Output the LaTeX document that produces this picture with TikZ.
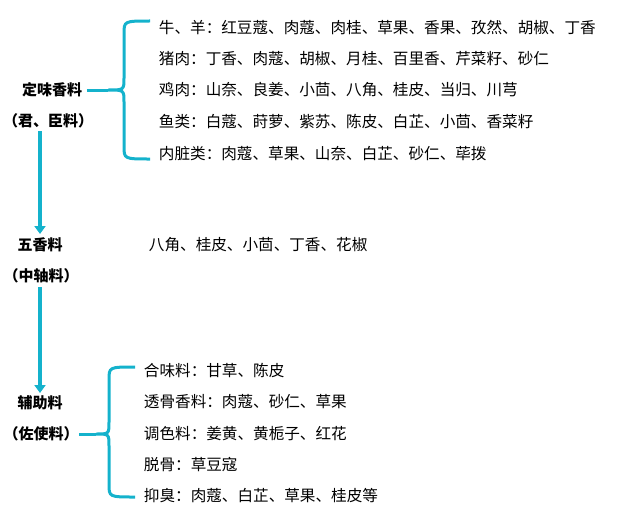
\documentclass[tikz,border=0pt]{standalone}
\usepackage{fontspec}
\newfontfamily\cjk{Noto Sans CJK SC}
\usetikzlibrary{arrows.meta}
\definecolor{braceblue}{RGB}{20,178,204}
\begin{document}
\begin{tikzpicture}[x=1pt,y=-1pt,font=\cjk\fontsize{15.6}{18}\selectfont,
  head/.style={font=\cjk\bfseries\fontsize{15}{18}\selectfont,inner sep=0.75pt},
  item/.style={anchor=west,inner sep=0.75pt},
  brace/.style={draw=braceblue,line width=3pt},
  flow/.style={draw=braceblue,line width=4.5pt,-{Triangle[length=8pt,width=11pt]}}]
\useasboundingbox (0,0) rectangle (617,511);
% heads
\node[head] (ding) at (52,90) {定味香料};
\node[head] (jun) at (48,121) {（君、臣料）};
\node[head] (wu) at (40,245) {五香料};
\node[head] (zhou) at (41,276) {（中轴料）};
\node[head] (fu) at (40,403) {辅助料};
\node[head] (zuo) at (41,434) {（佐使料）};
% arrows
\draw[flow] (40,131) -- (40,234);
\draw[flow] (40,287) -- (40,393);
% top brace
\draw[brace] (150,21) .. controls (124,21) .. (124,34) -- (124,78) .. controls (124,90) .. (108,90) .. controls (124,90) .. (124,102) -- (124,146) .. controls (124,159) .. (150,159);
\coordinate (b1) at (108,90);
\draw[brace] (ding.east) ++(4,0) -- (b1);
\node[item] (t1) at (158,28) {牛、羊：红豆蔻、肉蔻、肉桂、草果、香果、孜然、胡椒、丁香};
\node[item] (t2) at (158,59) {猪肉：丁香、肉蔻、胡椒、月桂、百里香、芹菜籽、砂仁};
\node[item] (t3) at (158,90) {鸡肉：山奈、良姜、小茴、八角、桂皮、当归、川芎};
\node[item] (t4) at (158,122) {鱼类：白蔻、莳萝、紫苏、陈皮、白芷、小茴、香菜籽};
\node[item] (t5) at (158,154) {内脏类：肉蔻、草果、山奈、白芷、砂仁、荜拨};
% middle
\node[item] (m1) at (148,245) {八角、桂皮、小茴、丁香、花椒};
% bottom brace
\draw[brace] (135,367) .. controls (109,367) .. (109,380) -- (109,422) .. controls (109,434) .. (96,434) .. controls (109,434) .. (109,446) -- (109,484) .. controls (109,497) .. (135,497);
\coordinate (b2) at (96,434);
\draw[brace] (zuo.east) -- (b2);
\node[item] (s1) at (143,371) {合味料：甘草、陈皮};
\node[item] (s2) at (143,402) {透骨香料：肉蔻、砂仁、草果};
\node[item] (s3) at (143,434) {调色料：姜黄、黄栀子、红花};
\node[item] (s4) at (143,465) {脱骨：草豆寇};
\node[item] (s5) at (143,496) {抑臭：肉蔻、白芷、草果、桂皮等};
\end{tikzpicture}
\end{document}
